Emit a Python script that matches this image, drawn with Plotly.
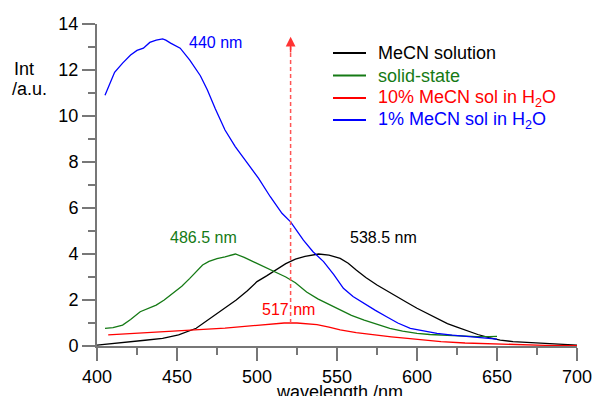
import plotly.graph_objects as go

# ---------------- data ----------------
black_x = [400, 410, 420, 430, 441, 451, 462, 472, 480, 487, 494, 500, 506, 512, 518, 524, 530, 538.5,
           545, 552, 557, 562, 568, 575, 581, 587, 594, 600, 606, 612, 619, 625, 631, 638, 645, 652,
           660, 670, 681, 690, 700]
black_y = [0.04, 0.1, 0.19, 0.25, 0.33, 0.48, 0.77, 1.27, 1.65, 2.0, 2.4, 2.8, 3.05, 3.3, 3.58, 3.78, 3.9, 4.0,
           3.95, 3.81, 3.6, 3.3, 2.98, 2.65, 2.4, 2.14, 1.88, 1.64, 1.42, 1.2, 0.97, 0.82, 0.66, 0.5, 0.36, 0.26,
           0.19, 0.15, 0.12, 0.08, 0.04]

green_x = [405, 410, 416, 421, 427, 432, 437, 442, 447.5, 453, 458, 462, 466, 470, 475, 480, 486.5, 492,
           497.5, 505, 512, 518, 524, 531, 538, 545, 552, 559, 567, 575, 583, 591, 600, 608, 617, 627, 637,
           645, 650]
green_y = [0.77, 0.8, 0.91, 1.15, 1.49, 1.62, 1.78, 2.0, 2.29, 2.6, 2.94, 3.25, 3.52, 3.68, 3.8, 3.88, 4.0, 3.85,
           3.67, 3.45, 3.23, 3.0, 2.75, 2.35, 2.05, 1.8, 1.57, 1.33, 1.13, 0.95, 0.77, 0.65, 0.55, 0.5, 0.47, 0.44,
           0.41, 0.41, 0.42]

red_x = [407, 420, 440, 462, 480, 500, 510, 517, 525, 537.5, 545, 552, 562, 573, 584, 594, 604, 615, 630,
         646, 660, 680, 700]
red_y = [0.48, 0.53, 0.6, 0.7, 0.78, 0.9, 0.97, 1.0, 1.0, 0.93, 0.82, 0.7, 0.58, 0.48, 0.4, 0.33, 0.26, 0.19,
         0.13, 0.09, 0.06, 0.03, 0.01]

blue_x = [405, 408, 411, 416, 421, 425, 429, 433, 437, 441, 443, 446, 452, 458, 464.6, 469, 474, 480, 486.4,
          494.8, 501, 508.3, 515.6, 521, 524, 529, 535, 541.6, 548, 554, 560, 566.6, 574, 581, 588, 595.8,
          604, 612.5, 622, 631, 640, 646, 650]
blue_y = [10.9, 11.4, 11.9, 12.3, 12.65, 12.85, 12.95, 13.2, 13.3, 13.35, 13.3, 13.17, 12.95, 12.43, 11.75,
          11.13, 10.3, 9.39, 8.67, 7.87, 7.29, 6.49, 5.77, 5.4, 5.12, 4.6, 4.1, 3.67, 3.1, 2.51, 2.15, 1.86,
          1.55, 1.27, 1.0, 0.77, 0.65, 0.55, 0.47, 0.41, 0.36, 0.33, 0.3]

series_names = ["MeCN solution", "solid-state", "10% MeCN sol in H<sub>2</sub>O", "1% MeCN sol in H<sub>2</sub>O"]
series_colors = ["#000000", "#157a15", "#ff0000", "#0000ff"]

arrow_x = [521, 521]
arrow_y = [1.0, 13.0]
arrow_tip = 13.45

peak_labels = ["440 nm", "486.5 nm", "538.5 nm", "517 nm"]
peak_label_x = [474, 466.5, 579, 519.5]
peak_label_y = [13.2, 4.7, 4.72, 1.6]
peak_label_colors = ["#0000ff", "#157a15", "#000000", "#ff0000"]

x_range = [400, 700]
y_range = [0, 14]
x_ticks = [400, 450, 500, 550, 600, 650, 700]
y_ticks = [0, 2, 4, 6, 8, 10, 12, 14]

FONT = "Liberation Sans, Arial, Helvetica, sans-serif"
W, H = 598, 396
ML, MR, MT, MB = 97, 21, 24, 50

fig = go.Figure()
data = [(black_x, black_y), (green_x, green_y), (red_x, red_y), (blue_x, blue_y)]
for (xs, ys), name, col in zip(data, series_names, series_colors):
    fig.add_trace(go.Scatter(x=xs, y=ys, mode="lines", line=dict(color=col, width=1.3),
                             name=name, showlegend=False))

# dashed red arrow
fig.add_trace(go.Scatter(x=arrow_x, y=arrow_y, mode="lines", showlegend=False,
                         line=dict(color="#ff5555", width=1.5, dash="4px,3px")))
fig.add_annotation(x=arrow_x[0], y=arrow_tip, ax=arrow_x[0], ay=arrow_y[1] - 0.3,
                   xref="x", yref="y", axref="x", ayref="y", text="", showarrow=True,
                   arrowhead=2, arrowsize=1.3, arrowwidth=1.5, arrowcolor="#ff3333")

for t, x, y, c in zip(peak_labels, peak_label_x, peak_label_y, peak_label_colors):
    fig.add_annotation(x=x, y=y, xref="x", yref="y", text=t, showarrow=False,
                       font=dict(family=FONT, size=16, color=c))

pw, ph = W - ML - MR, H - MT - MB
def px2paper(px, py):
    return (px - ML) / pw, (H - MB - py) / ph

ax_, ay_ = px2paper(12, 69)
fig.add_annotation(x=ax_, y=ay_, xref="paper", yref="paper", text="Int", showarrow=False,
                   xanchor="left", yanchor="middle", font=dict(family=FONT, size=18, color="black"))
ax_, ay_ = px2paper(10, 89)
fig.add_annotation(x=ax_, y=ay_, xref="paper", yref="paper", text="/a.u.", showarrow=False,
                   xanchor="left", yanchor="middle", font=dict(family=FONT, size=18, color="black"))
ax_, ay_ = px2paper(339, 380)
fig.add_annotation(x=ax_, y=ay_, xref="paper", yref="paper", text="wavelength /nm", showarrow=False,
                   xanchor="center", yanchor="top", font=dict(family=FONT, size=18, color="black"))

# legend drawn by hand (line sample + coloured label)
leg_line_x0, leg_line_x1, leg_text_x = 333, 366, 376
leg_row_y = [53, 75.5, 98, 120]
for name, col, ry in zip(series_names, series_colors, leg_row_y):
    x0, y0 = px2paper(leg_line_x0, ry)
    x1, _ = px2paper(leg_line_x1, ry)
    fig.add_shape(type="line", xref="paper", yref="paper", x0=x0, x1=x1, y0=y0, y1=y0,
                  line=dict(color=col, width=2))
    tx, _ = px2paper(leg_text_x, ry)
    fig.add_annotation(x=tx, y=y0, xref="paper", yref="paper", text=name, showarrow=False,
                       xanchor="left", yanchor="middle", font=dict(family=FONT, size=18, color=col))

axis_common = dict(showgrid=False, zeroline=False, showline=True, linecolor="#777777", linewidth=2,
                   ticks="outside", tickcolor="#777777", tickwidth=1.5, ticklen=13, automargin=False,
                   tickfont=dict(family=FONT, size=18, color="black"), fixedrange=True)
fig.update_xaxes(range=x_range, tickvals=x_ticks, **axis_common,
                 minor=dict(ticks="outside", ticklen=7, tickcolor="#777777", tickwidth=1.5, dtick=25, tick0=400))
fig.update_yaxes(range=y_range, tickvals=y_ticks, **axis_common,
                 minor=dict(ticks="outside", ticklen=7, tickcolor="#777777", tickwidth=1.5, dtick=1, tick0=0))

fig.update_layout(
    width=W, height=H, margin=dict(l=ML, r=MR, t=MT, b=MB, autoexpand=False),
    paper_bgcolor="white", plot_bgcolor="white",
    font=dict(family=FONT, size=18, color="black"),
    showlegend=False,
)

fig.write_html("out.html")
